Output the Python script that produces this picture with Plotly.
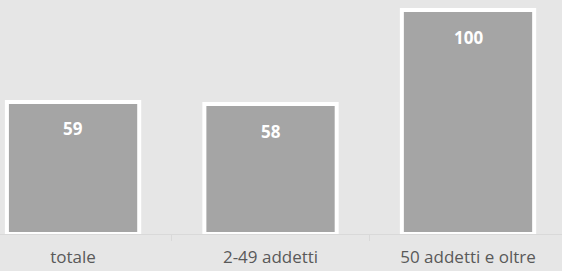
import plotly.graph_objects as go

categories = ["totale", "2-49 addetti", "50 addetti e oltre"]
values = [59, 58, 100]
labels = [str(v) for v in values]

fig = go.Figure()
fig.add_trace(go.Bar(
    x=categories, y=values,
    width=0.67,
    marker=dict(color="#a5a5a5", line=dict(color="#ffffff", width=4)),
    hoverinfo="skip",
))
for c, v, t in zip(categories, values, labels):
    fig.add_annotation(x=c, y=v, text="<b>%s</b>" % t, showarrow=False,
                       yanchor="middle", yshift=-27,
                       font=dict(family="Open Sans", size=17, color="#ffffff"))

fig.update_layout(
    width=562, height=271,
    margin=dict(l=0, r=0, t=0, b=37),
    paper_bgcolor="#e6e6e6", plot_bgcolor="#e6e6e6",
    showlegend=False,
    xaxis=dict(range=[-0.37, 2.476], showgrid=False, zeroline=False,
               showline=True, linecolor="#d9d9d9", linewidth=1,
               ticks="outside", tickson="boundaries", ticklen=6,
               tickcolor="#d9d9d9", tickwidth=1, ticklabelstandoff=8,
               tickfont=dict(family="Open Sans", size=17, color="#595959")),
    yaxis=dict(range=[0, 104.5], visible=False, showgrid=False, zeroline=False),
)
fig.write_html("out.html", config={"displayModeBar": False, "staticPlot": True},
               post_script="document.body.style.margin='0';")
with open("out.html", "r", encoding="utf-8") as f:
    html = f.read()
html = html.replace("<head>", "<head><style>body{margin:0;}</style>", 1)
with open("out.html", "w", encoding="utf-8") as f:
    f.write(html)
